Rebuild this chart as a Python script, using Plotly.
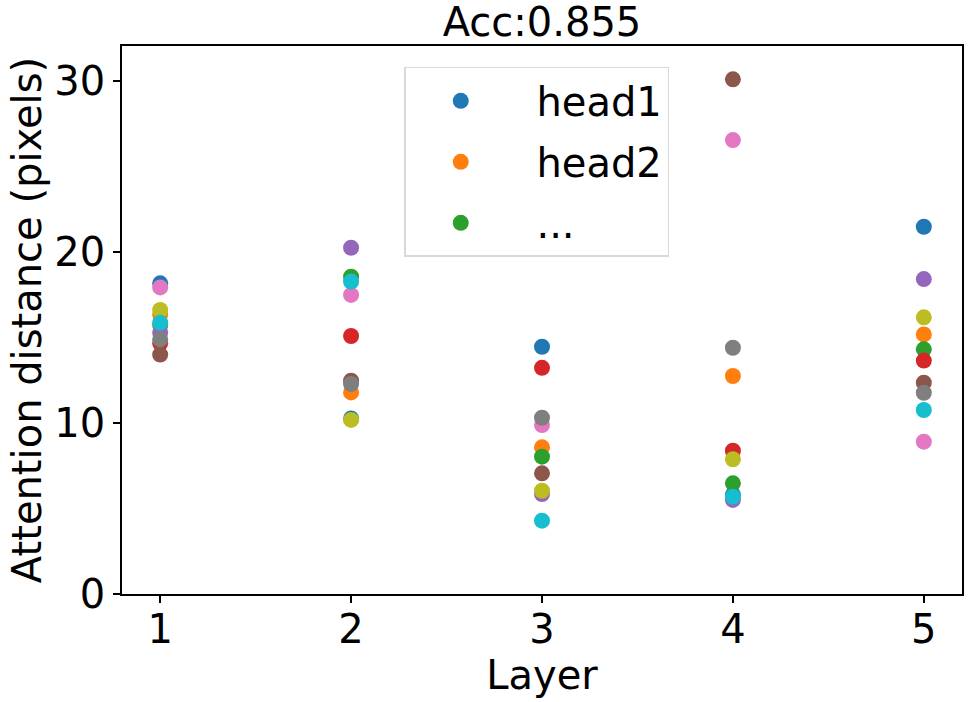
import plotly.graph_objects as go

layers = [1, 2, 3, 4, 5]

head1 = [18.17, 10.27, 14.46, 5.79, 21.48]
head2 = [16.35, 11.79, 8.58, 12.75, 15.18]
head3 = [15.73, 18.56, 8.03, 6.47, 14.31]
head4 = [14.66, 15.09, 13.23, 8.38, 13.65]
head5 = [15.30, 20.25, 5.85, 5.50, 18.42]
head6 = [14.00, 12.47, 7.06, 30.10, 12.36]
head7 = [17.93, 17.49, 9.88, 26.55, 8.91]
head8 = [14.89, 12.28, 10.31, 14.40, 11.77]
head9 = [16.61, 10.18, 6.04, 7.88, 16.18]
head10 = [15.87, 18.27, 4.29, 5.69, 10.76]

heads = [head1, head2, head3, head4, head5, head6, head7, head8, head9, head10]
legend_labels = ["head1", "head2", "..."]
colors = ["#1f77b4", "#ff7f0e", "#2ca02c", "#d62728", "#9467bd",
          "#8c564b", "#e377c2", "#7f7f7f", "#bcbd22", "#17becf"]

acc = 0.855


def plot_heads():
    fig = go.Figure()
    for i, vals in enumerate(heads):
        show = i < len(legend_labels)
        name = legend_labels[i] if show else f"head{i + 1}"
        fig.add_trace(go.Scatter(
            x=layers, y=vals, mode="markers",
            name="\u00a0\u2009" + name,
            showlegend=show, legendgroup=f"g{i}",
            marker=dict(color=colors[i], size=16),
        ))

    big = dict(family="DejaVu Sans", size=40, color="black")
    fig.update_layout(
        width=969, height=702,
        margin=dict(l=122, r=7, t=46, b=108),
        paper_bgcolor="white", plot_bgcolor="white",
        font=big,
        title=dict(text=f"Acc:{acc}", xref="paper", x=0.5, xanchor="center",
                   y=0.988, yanchor="top", font=big),
        legend=dict(x=0.336, y=0.962, xanchor="left", yanchor="top",
                    bordercolor="#d9d9d9", borderwidth=1.5, bgcolor="white",
                    font=big, tracegroupgap=6, itemwidth=100),
        showlegend=True,
    )
    fig.update_xaxes(
        range=[0.8, 5.2], tickvals=layers, tickfont=big, ticklabelstandoff=-8,
        title=dict(text="Layer", standoff=0, font=big), automargin=False,
        showline=True, linecolor="black", linewidth=1.5, mirror=True,
        ticks="outside", ticklen=7, tickwidth=1.5, tickcolor="black",
        showgrid=False, zeroline=False,
    )
    fig.update_yaxes(
        range=[0, 32.05], tickvals=[0, 10, 20, 30], tickfont=big,
        title=dict(text="Attention distance (pixels)", standoff=0, font=big),
        automargin=False,
        showline=True, linecolor="black", linewidth=1.5, mirror=True,
        ticks="outside", ticklen=7, tickwidth=1.5, tickcolor="black",
        showgrid=False, zeroline=False,
    )
    fig.write_html("out.html", config={"displayModeBar": False},
                   post_script="document.body.style.margin='0px';")


if __name__ == "__main__":
    plot_heads()
